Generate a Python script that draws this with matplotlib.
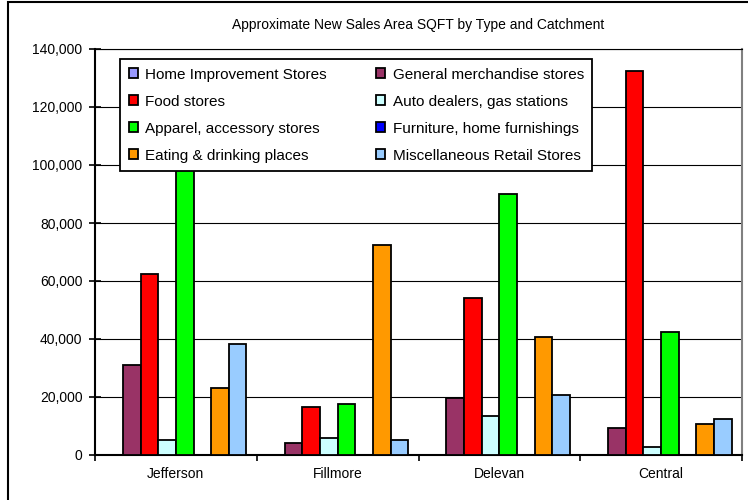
import matplotlib.pyplot as plt
import numpy as np
from matplotlib.patches import Rectangle
from matplotlib.ticker import FuncFormatter

plt.rcParams['font.family'] = ['Liberation Sans', 'DejaVu Sans']

places = ['Jefferson', 'Fillmore', 'Delevan', 'Central']
series = ['Home Improvement Stores', 'General merchandise stores', 'Food stores',
          'Auto dealers, gas stations', 'Apparel, accessory stores',
          'Furniture, home furnishings', 'Eating & drinking places',
          'Miscellaneous Retail Stores']
home_impr = [0, 0, 0, 0]
gen_merch = [31200, 4200, 19500, 9200]
food = [62300, 16600, 54000, 132300]
auto = [5200, 6000, 13400, 2900]
apparel = [101000, 17500, 90000, 42300]
furniture = [0, 0, 0, 0]
eating = [23000, 72500, 40800, 10600]
misc = [38200, 5200, 20800, 12300]
values = [home_impr, gen_merch, food, auto, apparel, furniture, eating, misc]
colors = ['#9999FF', '#993366', '#FF0000', '#CCFFFF', '#00FF00', '#0000FF', '#FF9900', '#99CCFF']

fig = plt.figure(figsize=(7.48, 5.0), dpi=100)
ax = fig.add_axes([95 / 748, 1 - 455 / 500, 647 / 748, 406 / 500])

# outer chart frame
fig.patches.append(Rectangle((8 / 748, -0.1), 1.2, 1 - 2 / 500 + 0.1, transform=fig.transFigure,
                             fill=False, edgecolor='black', linewidth=1.5, zorder=0))

x = np.arange(len(places))
w = 0.109
handles = []
for k, (vals, c) in enumerate(zip(values, colors)):
    b = ax.bar(x + (k - 3.5) * w, vals, width=w, color=c, edgecolor='black',
               linewidth=1.3, zorder=3, label=series[k])
    handles.append(b)

ax.set_xlim(-0.5, 3.5)
ax.set_ylim(0, 140000)
ax.set_yticks(np.arange(0, 140001, 20000))
ax.yaxis.set_major_formatter(FuncFormatter(lambda v, p: f'{int(v):,}'))
ax.yaxis.grid(True, color='black', linewidth=0.8, zorder=0)
ax.set_axisbelow(True)
ax.set_xticks(x)
ax.set_xticklabels(places)
ax.set_xticks(np.arange(-0.5, 4.0, 1.0), minor=True)
ax.tick_params(axis='x', which='major', length=0, labelsize=10, pad=9)
ax.tick_params(axis='x', which='minor', length=4, width=1.2, direction='out')
ax.tick_params(axis='y', length=8, width=1.2, labelsize=10, pad=5, direction='inout')
ax.spines['left'].set_linewidth(1.5)
ax.spines['bottom'].set_linewidth(1.5)
ax.spines['top'].set_linewidth(0.8)
ax.spines['right'].set_color('#808080')
ax.spines['right'].set_linewidth(1.5)

fig.text((95 + 742) / 2 / 748, 1 - 25 / 500, 'Approximate New Sales Area SQFT by Type and Catchment',
         ha='center', va='center', fontsize=10)

order = [0, 2, 4, 6, 1, 3, 5, 7]
leg = ax.legend([handles[i] for i in order], [series[i] for i in order], ncol=2,
                loc='upper left', bbox_to_anchor=(0.039, 0.975), borderaxespad=0,
                fontsize=11, frameon=True, fancybox=False, edgecolor='black', framealpha=1,
                handlelength=0.6, handleheight=0.6, handletextpad=0.5,
                columnspacing=3.2, labelspacing=0.85, borderpad=0.55)
leg.get_frame().set_linewidth(1.3)
leg.set_zorder(5)

fig.savefig('out.png', dpi=100)
